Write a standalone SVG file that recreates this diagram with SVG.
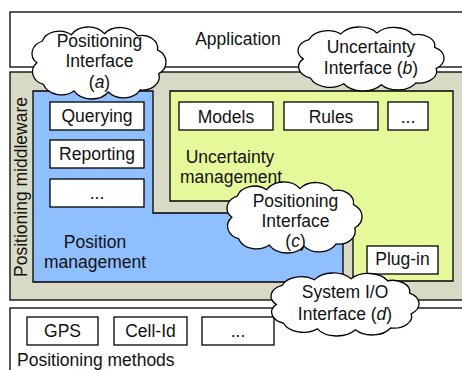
<svg xmlns="http://www.w3.org/2000/svg" xmlns:xlink="http://www.w3.org/1999/xlink" width="462" height="370" viewBox="0 0 462 370">
<style>
.ln{stroke:#000;stroke-width:1.3;}
.box{fill:#fff;stroke:#000;stroke-width:1.3;}
.t{font-family:"Liberation Sans",Arial,Helvetica,sans-serif;font-size:17.5px;fill:#111;text-anchor:middle;}
.tl{font-family:"Liberation Sans",Arial,Helvetica,sans-serif;font-size:17.5px;fill:#111;}
.cl{fill:#fff;stroke:#000;stroke-width:1.3;}
</style>
<defs>
<path id="cloud" vector-effect="non-scaling-stroke" d="M4,30 A12.2,12.2 0 0 1 8,10 A13.7,13.7 0 0 1 30,4 A15,15 0 0 1 55,3 A15.1,15.1 0 0 1 80,5 A11.9,11.9 0 0 1 95,18 A13.2,13.2 0 0 1 96,40 A12.3,12.3 0 0 1 82,55 A14.5,14.5 0 0 1 58,57 A15.6,15.6 0 0 1 32,56 A14.3,14.3 0 0 1 9,50 A12.4,12.4 0 0 1 4,30 Z"/>
</defs>
<g id="application">
<rect x="10" y="12" width="470" height="55" class="box"/>
<text x="238" y="45" class="t">Application</text>
</g>
<g id="middleware">
<rect x="10" y="72" width="470" height="228" fill="#d8dac5" class="ln"/>
<text transform="translate(27,187) rotate(-90)" class="t">Positioning middleware</text>
</g>
<g id="methods">
<rect x="10" y="308" width="470" height="80" class="box"/>
<text x="17" y="366" class="tl">Positioning methods</text>
</g>
<g id="position-management">
<path d="M33,91 H153 V213 H343 V282 H33 Z" fill="#8fbfff" class="ln"/>
<text x="95" y="248" class="t">Position</text>
<text x="95" y="268" class="t">management</text>
</g>
<g id="querying"><rect x="50" y="102" width="94" height="28" class="box"/><text x="97" y="122" class="t">Querying</text></g>
<g id="reporting"><rect x="50" y="140" width="94" height="28" class="box"/><text x="97" y="160" class="t">Reporting</text></g>
<g id="pm-more"><rect x="50" y="179" width="94" height="28" class="box"/><text x="97" y="199" class="t">...</text></g>
<g id="uncertainty-management">
<path d="M170,91 H453 V281 H353 V201 H170 Z" fill="#e6f99a" class="ln"/>
<text x="230" y="163" class="t">Uncertainty</text>
<text x="231" y="183" class="t">management</text>
</g>
<g id="models"><rect x="179" y="102" width="94" height="28" class="box"/><text x="226" y="123" class="t">Models</text></g>
<g id="rules"><rect x="284" y="102" width="94" height="28" class="box"/><text x="331" y="123" class="t">Rules</text></g>
<g id="um-more"><rect x="388" y="102" width="40" height="28" class="box"/><text x="408" y="123" class="t">...</text></g>
<g id="plugin"><rect x="367" y="246" width="71" height="28" class="box"/><text x="402.5" y="265" class="t">Plug-in</text></g>
<g id="gps"><rect x="27" y="317" width="71" height="28" class="box"/><text x="62.5" y="337" class="t">GPS</text></g>
<g id="cellid"><rect x="114" y="317" width="73" height="28" class="box"/><text x="150.5" y="337" class="t">Cell-Id</text></g>
<g id="methods-more"><rect x="202" y="317" width="72" height="28" class="box"/><text x="238" y="337" class="t">...</text></g>
<g id="connectors"></g>
<g id="cloud-a">
<use xlink:href="#cloud" href="#cloud" class="cl" transform="translate(31.51,30.45) scale(1.326,1.0795)"/>
<text x="99.5" y="47" class="t">Positioning</text>
<text x="99.5" y="67" class="t">Interface</text>
<text x="99.5" y="87.5" class="t">(<tspan font-style="italic">a</tspan>)</text>
</g>
<g id="cloud-b">
<use xlink:href="#cloud" href="#cloud" class="cl" transform="translate(297.47,30.07) scale(1.445,0.9595)"/>
<text x="371" y="52.5" class="t">Uncertainty</text>
<text x="371" y="73.5" class="t">Interface (<tspan font-style="italic">b</tspan>)</text>
</g>
<g id="cloud-c">
<use xlink:href="#cloud" href="#cloud" class="cl" transform="translate(226.51,185.41) scale(1.336,1.0645)"/>
<text x="295.5" y="207" class="t">Positioning</text>
<text x="295.5" y="227" class="t">Interface</text>
<text x="295.5" y="246.5" class="t">(<tspan font-style="italic">c</tspan>)</text>
</g>
<g id="cloud-d">
<use xlink:href="#cloud" href="#cloud" class="cl" transform="translate(270.46,276.02) scale(1.465,0.9445)"/>
<text x="345" y="298" class="t">System I/O</text>
<text x="345" y="320" class="t">Interface (<tspan font-style="italic">d</tspan>)</text>
</g>
</svg>
